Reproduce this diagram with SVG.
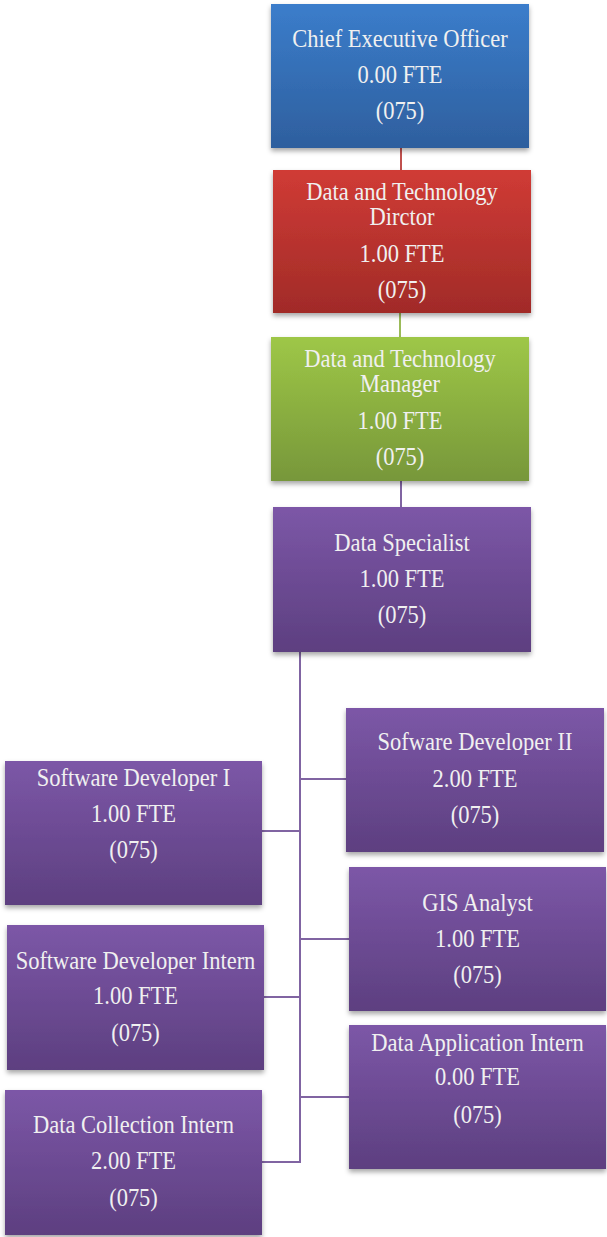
<svg xmlns="http://www.w3.org/2000/svg" width="607" height="1237" viewBox="0 0 607 1237">
<defs>
<linearGradient id="gBlue" x1="0" y1="0" x2="0" y2="1"><stop offset="0" stop-color="#3b7dcb"/><stop offset="1" stop-color="#2e5f9e"/></linearGradient>
<linearGradient id="gRed" x1="0" y1="0" x2="0" y2="1"><stop offset="0" stop-color="#d03b35"/><stop offset="1" stop-color="#a12b28"/></linearGradient>
<linearGradient id="gGreen" x1="0" y1="0" x2="0" y2="1"><stop offset="0" stop-color="#9ec747"/><stop offset="1" stop-color="#77973a"/></linearGradient>
<linearGradient id="gPurple" x1="0" y1="0" x2="0" y2="1"><stop offset="0" stop-color="#7c57a7"/><stop offset="1" stop-color="#5d3f80"/></linearGradient>
<filter id="sh" x="-10%" y="-10%" width="120%" height="130%"><feDropShadow dx="0" dy="3" stdDeviation="2.5" flood-color="#000" flood-opacity="0.35"/></filter>
</defs>
<style>
.box{filter:url(#sh);}
.t{font-family:"Liberation Serif","Times New Roman",serif;font-size:25px;fill:#f0f0f0;text-anchor:middle;}
.c{fill:none;stroke-width:2;}
.cp{stroke:#8064a2;}
</style>
<g id="connectors">
<line class="c" x1="401" y1="148" x2="401" y2="170" stroke="#c0504d"/>
<line class="c" x1="400" y1="313" x2="400" y2="337" stroke="#9bbb59"/>
<line class="c cp" x1="401" y1="481" x2="401" y2="507"/>
<line class="c cp" x1="300" y1="652" x2="300" y2="1163"/>
<line class="c cp" x1="262" y1="831" x2="300" y2="831"/>
<line class="c cp" x1="300" y1="779" x2="346" y2="779"/>
<line class="c cp" x1="300" y1="939" x2="349" y2="939"/>
<line class="c cp" x1="264" y1="997" x2="300" y2="997"/>
<line class="c cp" x1="300" y1="1097" x2="349" y2="1097"/>
<line class="c cp" x1="262" y1="1162" x2="301" y2="1162"/>
</g>
<g id="ceo">
<rect class="box" x="271" y="4" width="258" height="144" fill="url(#gBlue)"/>
<g transform="translate(400 0) scale(0.9 1)"><text class="t" x="0" y="47">Chief Executive Officer</text><text class="t" x="0" y="83">0.00 FTE</text><text class="t" x="0" y="119">(075)</text></g>
</g>
<g id="director">
<rect class="box" x="273" y="170" width="258" height="143" fill="url(#gRed)"/>
<g transform="translate(402 0) scale(0.9 1)"><text class="t" x="0" y="200">Data and Technology</text><text class="t" x="0" y="225">Dirctor</text><text class="t" x="0" y="262">1.00 FTE</text><text class="t" x="0" y="298">(075)</text></g>
</g>
<g id="manager">
<rect class="box" x="271" y="337" width="258" height="144" fill="url(#gGreen)"/>
<g transform="translate(400 0) scale(0.9 1)"><text class="t" x="0" y="367">Data and Technology</text><text class="t" x="0" y="392">Manager</text><text class="t" x="0" y="429">1.00 FTE</text><text class="t" x="0" y="465">(075)</text></g>
</g>
<g id="specialist">
<rect class="box" x="273" y="507" width="258" height="145" fill="url(#gPurple)"/>
<g transform="translate(402 0) scale(0.9 1)"><text class="t" x="0" y="551">Data Specialist</text><text class="t" x="0" y="587">1.00 FTE</text><text class="t" x="0" y="623">(075)</text></g>
</g>
<g id="sd1">
<rect class="box" x="5" y="761" width="257" height="144" fill="url(#gPurple)"/>
<g transform="translate(133.5 0) scale(0.9 1)"><text class="t" x="0" y="786">Software Developer I</text><text class="t" x="0" y="822">1.00 FTE</text><text class="t" x="0" y="858">(075)</text></g>
</g>
<g id="sd2">
<rect class="box" x="346" y="708" width="258" height="144" fill="url(#gPurple)"/>
<g transform="translate(475 0) scale(0.9 1)"><text class="t" x="0" y="750">Sofware Developer II</text><text class="t" x="0" y="787">2.00 FTE</text><text class="t" x="0" y="823">(075)</text></g>
</g>
<g id="gis">
<rect class="box" x="349" y="867" width="257" height="144" fill="url(#gPurple)"/>
<g transform="translate(477.5 0) scale(0.9 1)"><text class="t" x="0" y="911">GIS Analyst</text><text class="t" x="0" y="947">1.00 FTE</text><text class="t" x="0" y="983">(075)</text></g>
</g>
<g id="sdintern">
<rect class="box" x="7" y="925" width="257" height="145" fill="url(#gPurple)"/>
<g transform="translate(135.5 0) scale(0.9 1)"><text class="t" x="0" y="969">Software Developer Intern</text><text class="t" x="0" y="1004">1.00 FTE</text><text class="t" x="0" y="1041">(075)</text></g>
</g>
<g id="dataappintern">
<rect class="box" x="349" y="1025" width="257" height="144" fill="url(#gPurple)"/>
<g transform="translate(477.5 0) scale(0.9 1)"><text class="t" x="0" y="1051">Data Application Intern</text><text class="t" x="0" y="1085">0.00 FTE</text><text class="t" x="0" y="1123">(075)</text></g>
</g>
<g id="datacollintern">
<rect class="box" x="5" y="1090" width="257" height="145" fill="url(#gPurple)"/>
<g transform="translate(133.5 0) scale(0.9 1)"><text class="t" x="0" y="1133">Data Collection Intern</text><text class="t" x="0" y="1169">2.00 FTE</text><text class="t" x="0" y="1206">(075)</text></g>
</g>
</svg>
